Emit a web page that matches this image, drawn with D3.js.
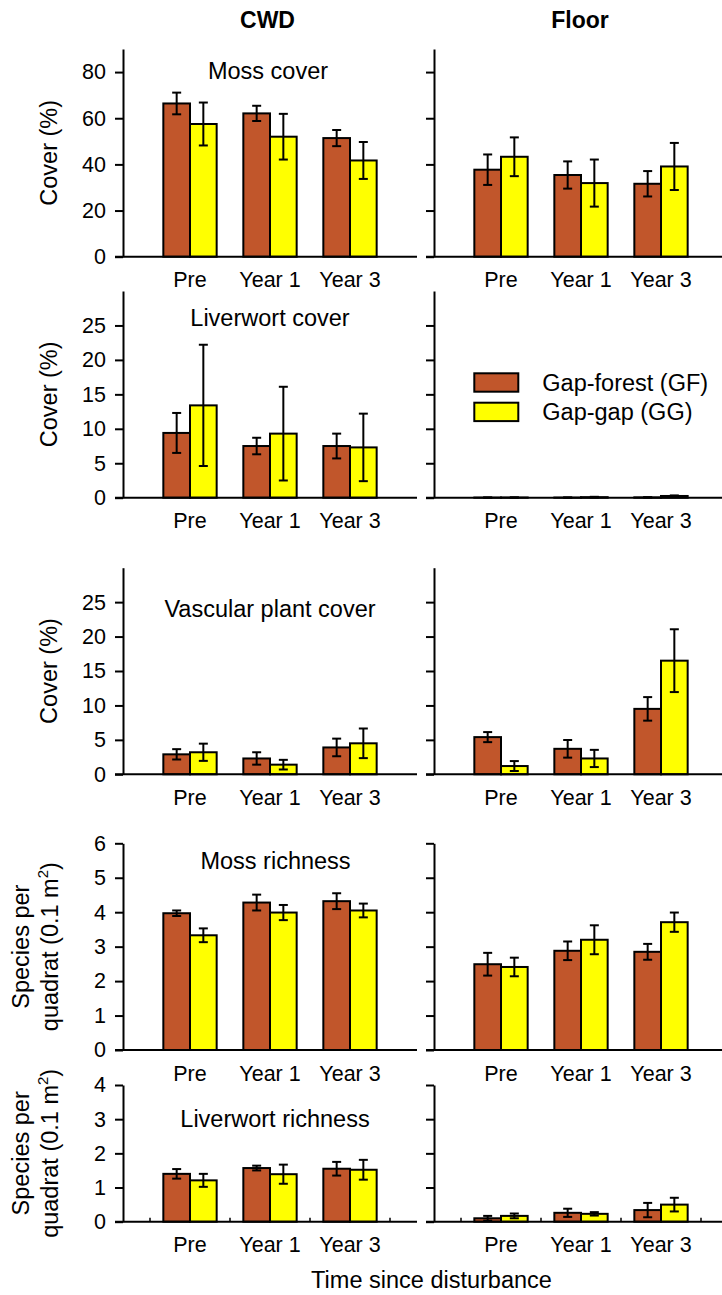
<!DOCTYPE html>
<html>
<head>
<meta charset="utf-8">
<script src="https://cdn.jsdelivr.net/npm/d3@7"></script>
<style>
  body { margin: 0; background: #fff; }
  text { font-family: "Liberation Sans", Arial, sans-serif; fill: #000; }
</style>
</head>
<body>
<svg id="fig" width="722" height="1295"></svg>
<script>
// ---- Data ---------------------------------------------------------------
const categories = ["Pre", "Year 1", "Year 3"];
const seriesKeys = ["GF", "GG"];
const seriesNames = ["Gap-forest (GF)", "Gap-gap (GG)"];
const columnNames = ["CWD", "Floor"];
const panelTitles = ["Moss cover", "Liverwort cover", "Vascular plant cover", "Moss richness", "Liverwort richness"];

// Moss cover (%)
const mossCoverCWD_GF = [66.4, 62.1, 51.4];
const mossCoverCWD_GF_se = [4.7, 3.3, 3.5];
const mossCoverCWD_GG = [57.5, 52.0, 41.7];
const mossCoverCWD_GG_se = [9.3, 9.9, 8.0];
const mossCoverFloor_GF = [37.7, 35.4, 31.6];
const mossCoverFloor_GF_se = [6.6, 5.9, 5.5];
const mossCoverFloor_GG = [43.3, 31.9, 39.1];
const mossCoverFloor_GG_se = [8.4, 10.2, 10.2];

// Liverwort cover (%)
const livCoverCWD_GF = [9.4, 7.5, 7.5];
const livCoverCWD_GF_se = [2.9, 1.2, 1.8];
const livCoverCWD_GG = [13.4, 9.3, 7.3];
const livCoverCWD_GG_se = [8.8, 6.8, 4.9];
const livCoverFloor_GF = [0.02, 0.02, 0.05];
const livCoverFloor_GF_se = [0.01, 0.01, 0.02];
const livCoverFloor_GG = [0.03, 0.08, 0.25];
const livCoverFloor_GG_se = [0.01, 0.05, 0.08];

// Vascular plant cover (%)
const vascCoverCWD_GF = [2.9, 2.3, 3.9];
const vascCoverCWD_GF_se = [0.75, 0.9, 1.28];
const vascCoverCWD_GG = [3.2, 1.4, 4.5];
const vascCoverCWD_GG_se = [1.25, 0.7, 2.15];
const vascCoverFloor_GF = [5.4, 3.7, 9.5];
const vascCoverFloor_GF_se = [0.73, 1.28, 1.71];
const vascCoverFloor_GG = [1.2, 2.3, 16.5];
const vascCoverFloor_GG_se = [0.72, 1.25, 4.56];

// Moss richness (species per 0.1 m2 quadrat)
const mossRichCWD_GF = [3.97, 4.28, 4.32];
const mossRichCWD_GF_se = [0.08, 0.23, 0.23];
const mossRichCWD_GG = [3.33, 3.99, 4.05];
const mossRichCWD_GG_se = [0.2, 0.22, 0.2];
const mossRichFloor_GF = [2.49, 2.88, 2.85];
const mossRichFloor_GF_se = [0.33, 0.27, 0.23];
const mossRichFloor_GG = [2.41, 3.2, 3.71];
const mossRichFloor_GG_se = [0.27, 0.42, 0.28];

// Liverwort richness (species per 0.1 m2 quadrat)
const livRichCWD_GF = [1.4, 1.57, 1.55];
const livRichCWD_GF_se = [0.14, 0.07, 0.2];
const livRichCWD_GG = [1.21, 1.39, 1.52];
const livRichCWD_GG_se = [0.19, 0.28, 0.29];
const livRichFloor_GF = [0.1, 0.26, 0.34];
const livRichFloor_GF_se = [0.07, 0.12, 0.21];
const livRichFloor_GG = [0.17, 0.23, 0.5];
const livRichFloor_GG_se = [0.07, 0.05, 0.2];

// Y-axis ticks per row
const ticksPercent80 = [0, 20, 40, 60, 80];
const ticksPercent25 = [0, 5, 10, 15, 20, 25];
const ticksRich6 = [0, 1, 2, 3, 4, 5, 6];
const ticksRich4 = [0, 1, 2, 3, 4];

// ---- Layout -------------------------------------------------------------
const colors = { GF: "#C1562B", GG: "#FFFF00" };
const colX = [123, 434];
const axisLen = 294;
const fsTick = 21.5, fsLabel = 23.5;

const rows = [
  { top: 49, base: 256.7, max: 90, ticks: ticksPercent80, ylab: ["Cover (%)"], tx: 268, ty: 78.5,
    data: [[mossCoverCWD_GF, mossCoverCWD_GF_se, mossCoverCWD_GG, mossCoverCWD_GG_se],
           [mossCoverFloor_GF, mossCoverFloor_GF_se, mossCoverFloor_GG, mossCoverFloor_GG_se]] },
  { top: 291, base: 497.7, max: 30, ticks: ticksPercent25, ylab: ["Cover (%)"], tx: 270, ty: 326,
    data: [[livCoverCWD_GF, livCoverCWD_GF_se, livCoverCWD_GG, livCoverCWD_GG_se],
           [livCoverFloor_GF, livCoverFloor_GF_se, livCoverFloor_GG, livCoverFloor_GG_se]] },
  { top: 567.7, base: 774.3, max: 30, ticks: ticksPercent25, ylab: ["Cover (%)"], tx: 270, ty: 616.5,
    data: [[vascCoverCWD_GF, vascCoverCWD_GF_se, vascCoverCWD_GG, vascCoverCWD_GG_se],
           [vascCoverFloor_GF, vascCoverFloor_GF_se, vascCoverFloor_GG, vascCoverFloor_GG_se]] },
  { top: 843.3, base: 1050, max: 6, ticks: ticksRich6, ylab: ["Species per", "quadrat (0.1 m", "2", ")"], tx: 275.5, ty: 868.5,
    data: [[mossRichCWD_GF, mossRichCWD_GF_se, mossRichCWD_GG, mossRichCWD_GG_se],
           [mossRichFloor_GF, mossRichFloor_GF_se, mossRichFloor_GG, mossRichFloor_GG_se]] },
  { top: 1085, base: 1221.7, max: 4, ticks: ticksRich4, ylab: ["Species per", "quadrat (0.1 m", "2", ")"], tx: 275, ty: 1126.5, minor: true,
    data: [[livRichCWD_GF, livRichCWD_GF_se, livRichCWD_GG, livRichCWD_GG_se],
           [livRichFloor_GF, livRichFloor_GF_se, livRichFloor_GG, livRichFloor_GG_se]] }
];

const svg = d3.select("#fig");

// Column headers
[267.5, 580].forEach((cx, i) => {
  svg.append("text").attr("x", cx).attr("y", 28)
    .attr("text-anchor", "middle").attr("font-size", 23).attr("font-weight", "bold")
    .text(columnNames[i]);
});

rows.forEach((row, ri) => {
  const y = d3.scaleLinear().domain([0, row.max]).range([row.base, row.top]);

  // Y-axis title (rotated), centred on the panel
  const cy = (row.top + row.base) / 2;
  if (row.ylab.length === 1) {
    svg.append("text")
      .attr("transform", `translate(57,${cy}) rotate(-90)`)
      .attr("text-anchor", "middle").attr("font-size", fsLabel)
      .text(row.ylab[0]);
  } else {
    svg.append("text")
      .attr("transform", `translate(29,${cy}) rotate(-90)`)
      .attr("text-anchor", "middle").attr("font-size", fsLabel)
      .text(row.ylab[0]);
    const t = svg.append("text")
      .attr("transform", `translate(58,${cy}) rotate(-90)`)
      .attr("text-anchor", "middle").attr("font-size", fsLabel);
    t.append("tspan").text(row.ylab[1]);
    t.append("tspan").attr("font-size", 15).attr("dy", -10).text(row.ylab[2]);
    t.append("tspan").attr("dy", 10).text(row.ylab[3]);
  }

  // Panel title
  svg.append("text").attr("x", row.tx).attr("y", row.ty)
    .attr("text-anchor", "middle").attr("font-size", fsLabel)
    .text(panelTitles[ri]);

  colX.forEach((x0, ci) => {
    const g = svg.append("g");
    const x = d3.scaleBand().domain(categories).range([x0 + 27, x0 + 267]);
    const xs = d3.scaleBand().domain(seriesKeys).range([0, x.bandwidth()]).paddingOuter(0.5);

    // Y axis
    const yAxis = d3.axisLeft(y).tickValues(row.ticks).tickSize(8).tickSizeOuter(0).tickPadding(9)
      .tickFormat(ci === 1 ? () => "" : d3.format("d"));
    const ya = g.append("g").attr("transform", `translate(${x0},0)`).call(yAxis);
    ya.select(".domain").attr("stroke", "#000").attr("stroke-width", 2);
    ya.selectAll(".tick line").attr("stroke", "#000").attr("stroke-width", 2);
    ya.selectAll(".tick text").attr("font-size", fsTick).attr("font-family", null).attr("fill", "#000");

    // Category labels
    const xa = g.append("g").attr("transform", `translate(0,${row.base})`)
      .call(d3.axisBottom(x).tickSize(0).tickPadding(15.5));
    xa.select(".domain").remove();
    xa.selectAll(".tick text").attr("font-size", fsTick).attr("font-family", null).attr("fill", "#000");

    // Bars
    const [gf, gfSe, gg, ggSe] = row.data[ci];
    const vals = { GF: gf, GG: gg };
    const errs = { GF: gfSe, GG: ggSe };
    const recs = [];
    categories.forEach((c, k) => seriesKeys.forEach(s => recs.push({ c, s, v: vals[s][k], e: errs[s][k] })));

    g.selectAll("rect.bar").data(recs).enter().append("rect")
      .attr("class", "bar")
      .attr("x", d => x(d.c) + xs(d.s))
      .attr("y", d => y(d.v))
      .attr("width", xs.bandwidth())
      .attr("height", d => row.base - y(d.v))
      .attr("fill", d => colors[d.s])
      .attr("stroke", "#000").attr("stroke-width", 2);

    // Error bars
    const eb = g.selectAll("g.err").data(recs).enter().append("g").attr("class", "err")
      .attr("stroke", "#000").attr("stroke-width", 2);
    const cxf = d => x(d.c) + xs(d.s) + xs.bandwidth() / 2;
    eb.append("line").attr("x1", cxf).attr("x2", cxf)
      .attr("y1", d => y(Math.max(0, d.v - d.e))).attr("y2", d => y(d.v + d.e));
    eb.append("line").attr("x1", d => cxf(d) - 4.5).attr("x2", d => cxf(d) + 4.5)
      .attr("y1", d => y(d.v + d.e)).attr("y2", d => y(d.v + d.e));
    eb.append("line").attr("x1", d => cxf(d) - 4.5).attr("x2", d => cxf(d) + 4.5)
      .attr("y1", d => y(Math.max(0, d.v - d.e))).attr("y2", d => y(Math.max(0, d.v - d.e)));

    // Baseline
    g.append("line").attr("x1", x0 - 8).attr("x2", x0 + axisLen)
      .attr("y1", row.base).attr("y2", row.base)
      .attr("stroke", "#000").attr("stroke-width", 2);

    // Category boundary marks
    if (row.minor) {
      const edges = categories.map(c => x(c)).concat([x(categories[categories.length - 1]) + x.bandwidth()]);
      g.selectAll("line.minor").data(edges).enter().append("line")
        .attr("class", "minor")
        .attr("x1", d => d).attr("x2", d => d)
        .attr("y1", row.base).attr("y2", row.base - 4)
        .attr("stroke", "#000").attr("stroke-width", 1.5);
    }
  });
});

// Legend (inside the Floor liverwort-cover panel)
const legY = [373.3, 402.7];
seriesKeys.forEach((s, i) => {
  svg.append("rect").attr("x", 474.3).attr("y", legY[i]).attr("width", 44).attr("height", 18.4)
    .attr("fill", colors[s]).attr("stroke", "#000").attr("stroke-width", 2);
  svg.append("text").attr("x", 542.3).attr("y", legY[i] + 17.5)
    .attr("font-size", fsLabel).text(seriesNames[i]);
});

// Shared x-axis title
svg.append("text").attr("x", 431.5).attr("y", 1288)
  .attr("text-anchor", "middle").attr("font-size", fsLabel)
  .text("Time since disturbance");
</script>
</body>
</html>
